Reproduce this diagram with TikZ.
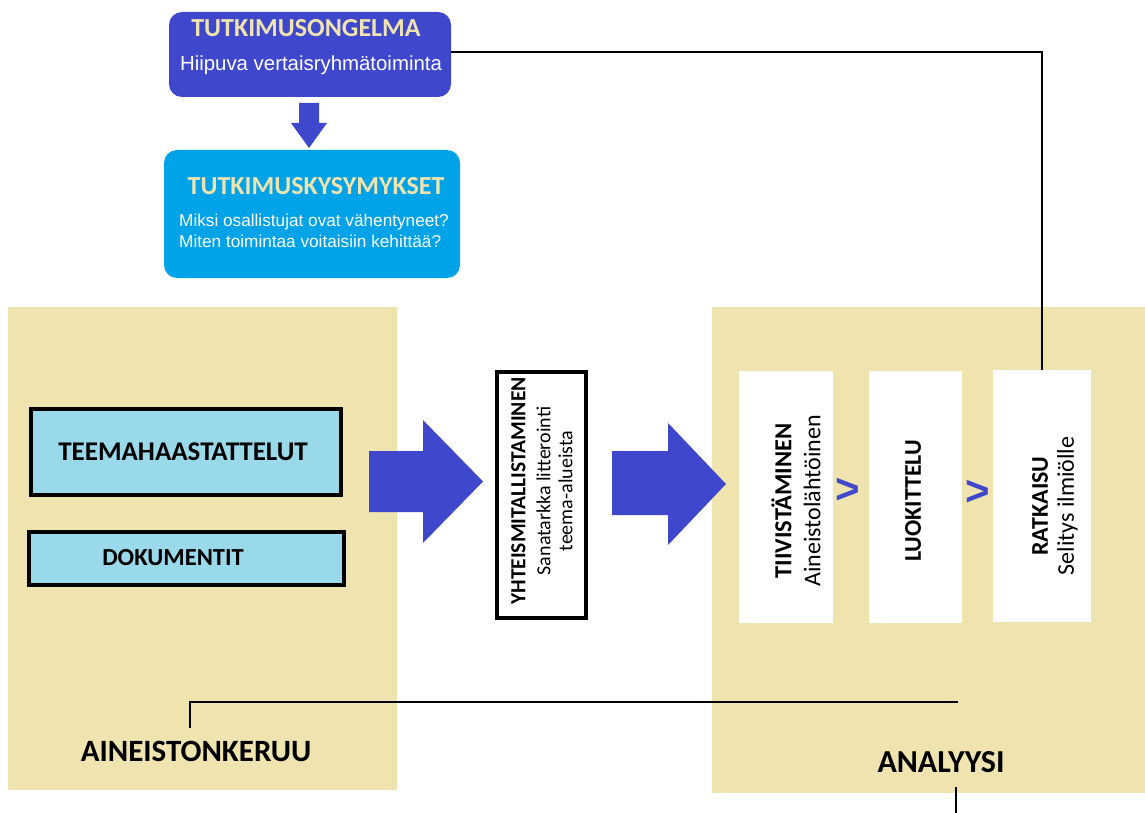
\documentclass[tikz,border=0pt]{standalone}
\usepackage{fontspec}
\setmainfont{Liberation Sans}
\newfontfamily\calibri{Carlito}
\usetikzlibrary{positioning,calc}

\definecolor{indigo}{HTML}{3F48CC}
\definecolor{skyblue}{HTML}{00A2E8}
\definecolor{sand}{HTML}{EFE4B0}
\definecolor{paleblue}{HTML}{99D9EA}

\tikzset{
  headbox/.style={fill=#1, rounded corners=13pt, inner sep=0pt},
  headtitle/.style={text=sand, anchor=base, inner sep=0pt,
    font=\calibri\bfseries\fontsize{26}{30}\selectfont},
  headtext/.style={text=white, anchor=base, inner sep=0pt,
    font=\fontsize{17.2}{21}\selectfont},
  sourcebox/.style={draw=black, line width=4pt, fill=paleblue, inner sep=0pt},
  sourcetext/.style={inner sep=0pt, font=\calibri\bfseries\fontsize{25}{30}\selectfont},
  stagebox/.style={fill=white, inner sep=0pt, minimum height=252pt},
  stagetext/.style={rotate=90, align=center, inner sep=0pt,
    font=\calibri\fontsize{24}{29}\selectfont},
  phaselabel/.style={inner sep=0pt, font=\calibri\bfseries\fontsize{32}{36}\selectfont},
  chevron/.style={text=indigo, inner sep=0pt, font=\bfseries\fontsize{42}{42}\selectfont},
  link/.style={line width=2.2pt},
}

\begin{document}
\begin{tikzpicture}[x=1pt,y=-1pt]
  \useasboundingbox (0,0) rectangle (1145,813);

  % taustapaneelit
  \fill[sand] (8,307) rectangle (397,790);
  \fill[sand] (712,307) rectangle (1145,793);

  % ongelma ja kysymykset
  \node[headbox=indigo, minimum width=282pt, minimum height=85pt] (ongelma) at (310,54.5) {};
  \node[headtitle] (ongelmaotsikko) at (306,37) {TUTKIMUSONGELMA};
  \node[headtext, font=\fontsize{20.4}{24}\selectfont] (ongelmateksti) at (311,71) {Hiipuva vertaisryhmätoiminta};
  \fill[indigo] (299,103) -- (319,103) -- (319,123) -- (327,123) -- (309,148)
    -- (291,123) -- (299,123) -- cycle;
  \node[headbox=skyblue, minimum width=296pt, minimum height=128pt] (kysymykset) at (312,214) {};
  \node[headtitle] (kysymysotsikko) at (316,195) {TUTKIMUSKYSYMYKSET};
  \node[headtext, anchor=base west] (kysymys1) at (179,226) {Miksi osallistujat ovat vähentyneet?};
  \node[headtext, anchor=base west] (kysymys2) at (179,247) {Miten toimintaa voitaisiin kehittää?};

  % aineistonkeruu
  \node[sourcebox, minimum width=310pt, minimum height=86pt] (haastattelut) at (186,452) {};
  \node[sourcetext, font=\calibri\bfseries\fontsize{27}{30}\selectfont] (haastatteluteksti) at (183,452) {TEEMAHAASTATTELUT};
  \node[sourcebox, minimum width=315pt, minimum height=53pt] (dokumentit) at (186.5,558.5) {};
  \node[sourcetext, font=\calibri\bfseries\fontsize{24.5}{30}\selectfont] (dokumenttiteksti) at (173,558) {DOKUMENTIT};
  \node[phaselabel, font=\calibri\bfseries\fontsize{31}{36}\selectfont] (keruu) at (196,751) {AINEISTONKERUU};

  \fill[indigo] (369,451) -- (423,451) -- (423,420) -- (483,481.5) -- (423,543)
    -- (423,512) -- (369,512) -- cycle;

  % litterointi
  \node[draw=black, line width=3.5pt, fill=white, minimum width=89pt, minimum height=246pt] (yhteis) at (541.5,495) {};
  \node[stagetext, font=\calibri\fontsize{20}{22}\selectfont] (yhteisteksti) at (542,491)
    {{\bfseries\fontsize{21.5}{22}\selectfont YHTEISMITALLISTAMINEN}\\[3pt]Sanatarkka litterointi\\teema-alueista};

  \fill[indigo] (612,451) -- (668,451) -- (668,423) -- (726,484) -- (668,545)
    -- (668,515) -- (612,515) -- cycle;

  % analyysi
  \node[stagebox, minimum width=94pt] (tiivistys) at (786,497) {};
  \node[stagebox, minimum width=93pt] (luokittelu) at (915.5,497) {};
  \node[stagebox, minimum width=98pt] (ratkaisu) at (1042,496) {};
  \node[stagetext] (tiivistysteksti) at (796,501) {{\bfseries\fontsize{24.5}{29}\selectfont TIIVISTÄMINEN}\\Aineistolähtöinen};
  \node[stagetext] (luokitteluteksti) at (913,501) {\bfseries LUOKITTELU};
  \node[stagetext, font=\calibri\fontsize{24}{26}\selectfont] (ratkaisuteksti) at (1055,506) {\bfseries RATKAISU\\Selitys ilmiölle};
  \node[chevron] (nuoli1) at (848,491) {>};
  \node[chevron] (nuoli2) at (978,493) {>};
  \node[phaselabel] (analyysi) at (941,762) {ANALYYSI};

  % yhdysviivat
  \draw[link] ([yshift=2.5pt]ongelma.east) -| (ratkaisu.north);
  \coordinate (keruuylä) at (190,728);
  \coordinate (silmukka) at (958,702);
  \draw[link] (keruuylä) |- (silmukka);
  \coordinate (analyysiala) at (956,787);
  \coordinate (reuna) at (956,813);
  \draw[link] (analyysiala) -- (reuna);
\end{tikzpicture}
\end{document}
